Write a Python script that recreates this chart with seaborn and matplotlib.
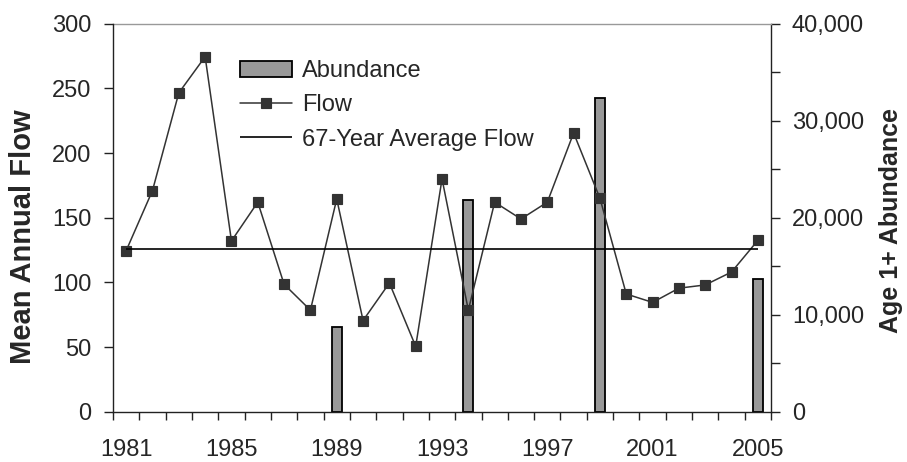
import numpy as np
import pandas as pd
import matplotlib
matplotlib.use("Agg")
import matplotlib.pyplot as plt
import seaborn as sns
from matplotlib.ticker import FuncFormatter, MultipleLocator

# data
years = [str(y) for y in range(1981, 2006)]
flow = [124.5, 171, 246.5, 274.5, 132, 162, 98.5, 78.5, 164.5, 70.5, 99.5, 50.5,
        180, 78.5, 162, 149, 162, 215.5, 165, 91, 84.5, 95.5, 98, 108, 132.5]
abundance_years = ["1989", "1994", "1999", "2005"]
abundance_vals = [8700, 21850, 32350, 13650]
avg_flow = 125.5

abundance = [abundance_vals[abundance_years.index(y)] if y in abundance_years else np.nan
             for y in years]
df = pd.DataFrame({"year": years, "flow": flow, "abundance": abundance})

sns.set_style("ticks")
plt.rcParams["font.family"] = ["Liberation Sans", "DejaVu Sans"]

fig = plt.figure(figsize=(9.07, 4.62), dpi=100)
ax = fig.add_axes([0.1246, 0.1089, 0.7255, 0.8398])
ax2 = ax.twinx()

# bars (right axis) behind the flow line (left axis)
sns.barplot(data=df, x="year", y="abundance", order=years, ax=ax2,
            color="#999999", saturation=1, width=0.38, errorbar=None,
            edgecolor="black", linewidth=1.3, label="Abundance")
sns.pointplot(data=df, x="year", y="flow", order=years, ax=ax,
              color="#333333", markers="s", linestyles="-", errorbar=None,
              markersize=7.5, linewidth=1.1, label="Flow")
ax.hlines(avg_flow, 0, len(years) - 1, color="black", linewidth=1.2,
          label="67-Year Average Flow")

ax.set_zorder(ax2.get_zorder() + 1)
ax.patch.set_visible(False)

# left axis
ax.set_ylim(0, 300)
ax.set_yticks(np.arange(0, 301, 50))
ax.set_xlim(-0.5, len(years) - 0.5)
ax.tick_params(axis="y", labelsize=17, length=6.5, width=1, pad=9, color="#222222")

# x ticks: marks between categories, labels every 4 years
ax.set_xticks(np.arange(-0.5, len(years), 1))
ax.set_xticklabels([])
ax.set_xticks(np.arange(0, len(years), 4), minor=True)
ax.set_xticklabels(years[::4], minor=True)
ax.tick_params(axis="x", which="major", length=6, width=1, color="#222222")
ax.tick_params(axis="x", which="minor", length=0, labelsize=17, pad=19.5)
ax.set_xlabel("")

# right axis
ax2.set_ylim(0, 40000)
ax2.yaxis.set_major_locator(MultipleLocator(10000))
ax2.yaxis.set_minor_locator(MultipleLocator(5000))
ax2.yaxis.set_major_formatter(FuncFormatter(lambda v, p: f"{int(v):,}"))
ax2.tick_params(axis="y", which="both", labelsize=17, length=6.5, width=1, pad=8.5,
                color="#222222")

ax.set_ylabel("Mean Annual Flow", fontsize=21, fontweight="bold")
ax.yaxis.set_label_coords(-0.1155, 0.45)
ax2.set_ylabel("Age 1+ Abundance", fontsize=18, fontweight="bold", rotation=90)
ax2.yaxis.set_label_coords(1.164, 0.494)

for a in (ax, ax2):
    for s in a.spines.values():
        s.set_linewidth(1)
        s.set_color("#222222")
ax.spines["right"].set_visible(False)
ax.spines["top"].set_visible(False)
ax2.spines["left"].set_visible(False)
ax2.spines["bottom"].set_visible(False)
ax2.spines["top"].set_color("#999999")

# legend
if ax2.get_legend():
    ax2.get_legend().remove()
h2, l2 = ax2.get_legend_handles_labels()
h1, l1 = ax.get_legend_handles_labels()
ax.legend(h2 + h1, l2 + l1, loc="upper left", bbox_to_anchor=(0.193, 0.906),
          frameon=False, fontsize=17, borderpad=0, borderaxespad=0,
          handlelength=2.2, handletextpad=0.42, labelspacing=0.52)

fig.savefig("out.png", dpi=100)
